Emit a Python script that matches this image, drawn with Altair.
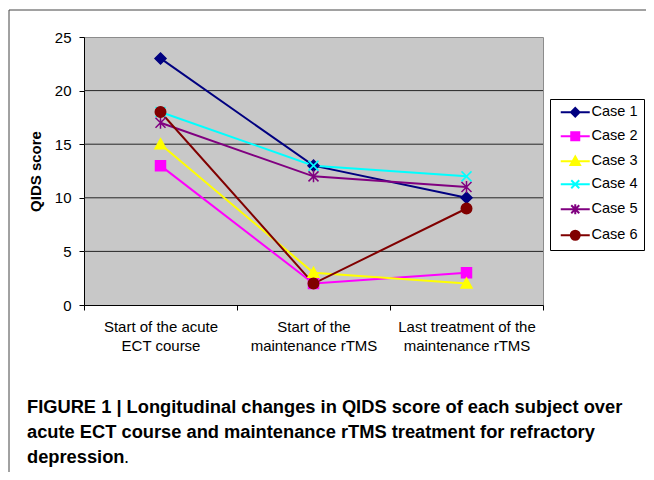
import altair as alt
import pandas as pd

categories = ["Start of the acute|ECT course", "Start of the|maintenance rTMS", "Last treatment of the|maintenance rTMS"]
cases = ["Case 1", "Case 2", "Case 3", "Case 4", "Case 5", "Case 6"]
case1 = [23, 13, 10]
case2 = [13, 2, 3]
case3 = [15, 3, 2]
case4 = [18, 13, 12]
case5 = [17, 12, 11]
case6 = [18, 2, 9]
y_ticks = [0, 5, 10, 15, 20, 25]
grid_values = [5, 10, 15, 20]
caption = [
    "FIGURE 1 | Longitudinal changes in QIDS score of each subject over",
    "acute ECT course and maintenance rTMS treatment for refractory",
    "depression",
]

colors = ["#000080", "#FF00FF", "#FFFF00", "#00FFFF", "#800080", "#800000"]
plot_shapes = [
    "M0,-1.1L1.1,0L0,1.1L-1.1,0Z",
    "M-1,-1L1,-1L1,1L-1,1Z",
    "M0,-1.1L1.1,0.9L-1.1,0.9Z",
    "M-1,-1L1,1M-1,1L1,-1",
    "M-1,-1L1,1M-1,1L1,-1M0,-1.2L0,1.2",
    "M-1.05,0A1.05,1.05 0 1,0 1.05,0A1.05,1.05 0 1,0 -1.05,0Z",
]
legend_shapes = [
    "M-2.9,0L2.9,0M0,-0.85L0.85,0L0,0.85L-0.85,0Z",
    "M-2.9,0L2.9,0M-0.8,-0.8L0.8,-0.8L0.8,0.8L-0.8,0.8Z",
    "M-2.9,0L2.9,0M0,-0.95L0.95,0.75L-0.95,0.75Z",
    "M-2.9,0L2.9,0M-0.8,-0.8L0.8,0.8M-0.8,0.8L0.8,-0.8",
    "M-2.9,0L2.9,0M-0.8,-0.8L0.8,0.8M-0.8,0.8L0.8,-0.8M0,-1L0,1",
    "M-2.9,0L2.9,0M-0.9,0A0.9,0.9 0 1,0 0.9,0A0.9,0.9 0 1,0 -0.9,0Z",
]

series = [case1, case2, case3, case4, case5, case6]
rows = []
for name, vals in zip(cases, series):
    for cat, v in zip(categories, vals):
        rows.append({"case": name, "stage": cat, "score": v})
df = pd.DataFrame(rows)

W, H = 459, 268
PAD = {"left": 76, "top": 29, "right": 103, "bottom": 167}

case_list = "[" + ",".join("'" + c + "'" for c in cases) + "]"
shape_expr = "[" + ",".join("'" + s + "'" for s in legend_shapes) + "][indexof(" + case_list + ", datum.value)]"
fill_expr = "[" + ",".join("'" + c + "'" for c in colors) + "][indexof(" + case_list + ", datum.value)]"

x_enc = alt.X(
    "stage:N",
    sort=categories,
    bandPosition=0.5,
    scale=alt.Scale(type="band", paddingInner=0, paddingOuter=0),
    axis=alt.Axis(
        title=None,
        labelAngle=0,
        labelExpr="split(datum.label, '|')",
        labelFont="Liberation Sans",
        labelFontSize=15,
        labelColor="#000000",
        labelLineHeight=19,
        labelPadding=9,
        tickBand="extent",
        tickSize=5,
        tickColor="#000000",
        domainColor="#000000",
        grid=False,
    ),
)
y_axis = alt.Axis(
    values=y_ticks,
    title="QIDS score",
    titleFont="Liberation Sans",
    titleFontSize=15,
    titleFontWeight="bold",
    titleColor="#000000",
    titleAngle=270,
    titleX=-49,
    titleY=H / 2,
    titleAlign="center",
    titleBaseline="middle",
    labelFont="Liberation Sans",
    labelFontSize=15,
    labelColor="#000000",
    labelPadding=8,
    tickSize=5,
    tickColor="#000000",
    domainColor="#000000",
    grid=False,
)
y_scale = alt.Scale(domain=[0, 25], nice=False)
y_enc = alt.Y("score:Q", scale=y_scale, axis=y_axis)

color_scale = alt.Scale(domain=cases, range=colors)

base = alt.Chart(df)

grid = alt.Chart(pd.DataFrame({"g": grid_values})).mark_rule(color="#262626", strokeWidth=1).encode(
    y=alt.Y("g:Q", scale=y_scale, axis=y_axis)
)

lines = base.mark_line(strokeWidth=2).encode(
    x=x_enc,
    y=y_enc,
    color=alt.Color(
        "case:N",
        scale=color_scale,
        legend=alt.Legend(
            title=None,
            orient="none",
            legendX=466,
            legendY=62,
            labelFont="Liberation Sans",
            labelFontSize=14.5,
            labelColor="#000000",
            labelLimit=200,
            strokeColor="#000000",
            fillColor="#FFFFFF",
            padding=6,
            symbolSize=100,
            symbolOffset=12,
            labelOffset=9,
            rowPadding=7,
            symbolType={"expr": shape_expr},
            symbolFillColor={"expr": fill_expr},
            symbolStrokeWidth=2,
            symbolOpacity=1,
        ),
    ),
    detail="case:N",
)

points = base.mark_point(filled=True, size=100, strokeWidth=1.5, opacity=1).encode(
    x=x_enc,
    y=y_enc,
    shape=alt.Shape("case:N", scale=alt.Scale(domain=cases, range=plot_shapes), legend=None),
    fill=alt.Fill("case:N", scale=alt.Scale(domain=cases, range=colors), legend=None),
    stroke=alt.Stroke("case:N", scale=alt.Scale(domain=cases, range=colors), legend=None),
)

frame_top = alt.Chart(pd.DataFrame({"k": [0]})).mark_rule(color="#444444", strokeWidth=1).encode(
    x=alt.value(-75), x2=alt.value(W + PAD["right"]), y=alt.value(-27)
)
frame_left = alt.Chart(pd.DataFrame({"k": [0]})).mark_rule(color="#444444", strokeWidth=1).encode(
    x=alt.value(-75), y=alt.value(-27), y2=alt.value(H + PAD["bottom"])
)

cap_font = "Liberation Sans"
cap_size = 18.3
cap_layers = []
cap_y = [375.5, 400.5, 425.5]
for txt, yy in zip(caption, cap_y):
    cap_layers.append(
        alt.Chart(pd.DataFrame({"t": [txt]})).mark_text(
            align="left", baseline="alphabetic", font=cap_font,
            fontSize=cap_size, fontWeight="bold", color="#000000",
        ).encode(text="t:N", x=alt.value(-57), y=alt.value(yy))
    )
period = alt.Chart(pd.DataFrame({"t": ["."]})).mark_text(
    align="left", baseline="alphabetic", font=cap_font,
    fontSize=cap_size, color="#000000",
).encode(text="t:N", x=alt.value(-57 + 97), y=alt.value(425.5))

chart = alt.layer(grid, lines, points, frame_top, frame_left, *cap_layers, period).resolve_scale(
    shape="independent", fill="independent", stroke="independent"
).properties(
    width=W,
    height=H,
    padding=PAD,
    autosize=alt.AutoSizeParams(type="none"),
    background="#FFFFFF",
).configure_view(
    fill="#C8C8C8",
    stroke="#8C8C8C",
    strokeWidth=1,
)

chart.save("out.html", embed_options={"renderer": "svg", "actions": False})
